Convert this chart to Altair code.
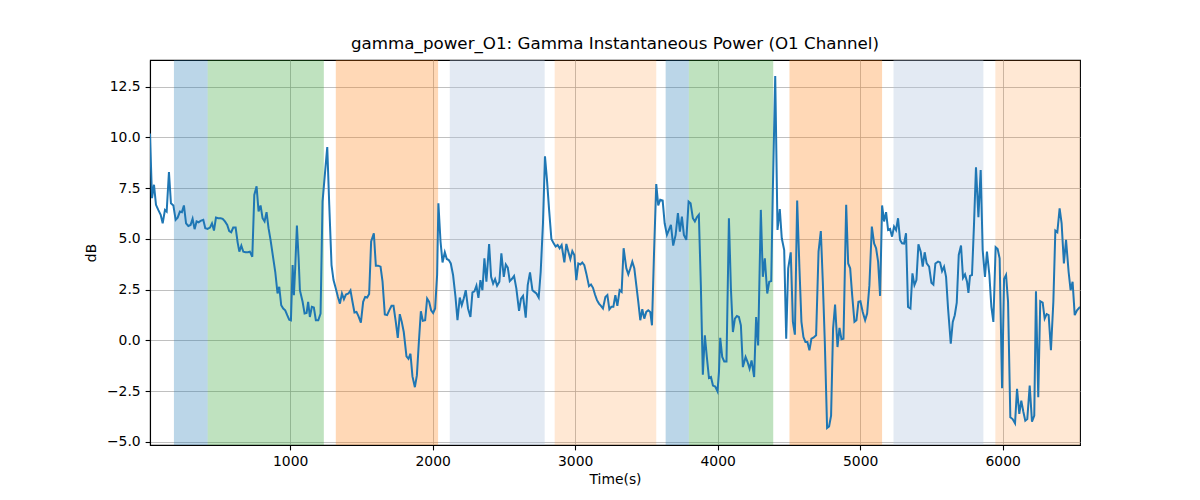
import altair as alt
import pandas as pd

TIME = [16, 30, 44, 58, 74, 91, 105, 121, 133, 149, 163, 180, 196, 210, 226, 240, 254, 269, 285, 301,
        315, 329, 343, 357, 371, 390, 404, 420, 437, 451, 465, 479, 495, 512, 526, 542, 558, 572, 586, 600,
        617, 631, 643, 657, 671, 687, 703, 717, 734, 748, 764, 778, 792, 806, 820, 834, 848, 862, 881, 895,
        911, 923, 937, 951, 965, 979, 993, 1005, 1017, 1026, 1035, 1047, 1059, 1068, 1087, 1101, 1115, 1126, 1138, 1152,
        1166, 1180, 1197, 1213, 1227, 1243, 1260, 1274, 1290, 1304, 1320, 1335, 1349, 1363, 1377, 1391, 1409, 1423, 1437, 1451,
        1465, 1479, 1496, 1512, 1526, 1540, 1554, 1568, 1587, 1601, 1617, 1634, 1648, 1664, 1680, 1695, 1711, 1725, 1741, 1755,
        1769, 1783, 1797, 1816, 1830, 1844, 1858, 1875, 1889, 1903, 1917, 1931, 1947, 1961, 1975, 1989, 2003, 2017, 2031, 2040,
        2055, 2069, 2085, 2099, 2113, 2127, 2143, 2160, 2174, 2190, 2204, 2218, 2232, 2248, 2265, 2279, 2293, 2307, 2321, 2335,
        2349, 2363, 2377, 2396, 2410, 2424, 2438, 2452, 2468, 2482, 2499, 2513, 2527, 2541, 2555, 2571, 2587, 2606, 2620, 2634,
        2653, 2667, 2683, 2700, 2714, 2728, 2744, 2758, 2774, 2788, 2802, 2817, 2833, 2849, 2863, 2877, 2891, 2905, 2924, 2938,
        2952, 2966, 2980, 2994, 3008, 3022, 3036, 3050, 3064, 3078, 3097, 3111, 3125, 3139, 3153, 3167, 3181, 3195, 3212, 3226,
        3240, 3254, 3268, 3282, 3296, 3312, 3326, 3340, 3359, 3373, 3387, 3401, 3415, 3429, 3443, 3457, 3471, 3485, 3499, 3513,
        3527, 3539, 3553, 3569, 3583, 3597, 3614, 3628, 3644, 3658, 3672, 3688, 3705, 3721, 3735, 3749, 3763, 3780, 3796, 3810,
        3826, 3840, 3854, 3868, 3882, 3896, 3910, 3924, 3939, 3953, 3967, 3983, 3999, 4009, 4018, 4032, 4046, 4062, 4079, 4093,
        4107, 4121, 4135, 4149, 4163, 4177, 4196, 4210, 4224, 4238, 4256, 4270, 4284, 4303, 4317, 4331, 4348, 4362, 4376, 4387,
        4404, 4420, 4436, 4450, 4467, 4481, 4495, 4513, 4528, 4542, 4558, 4574, 4588, 4602, 4616, 4630, 4644, 4658, 4672, 4691,
        4708, 4724, 4738, 4752, 4768, 4782, 4796, 4810, 4824, 4841, 4855, 4869, 4883, 4902, 4916, 4930, 4944, 4960, 4974, 4988,
        5002, 5018, 5035, 5049, 5065, 5082, 5098, 5112, 5126, 5140, 5154, 5168, 5182, 5196, 5210, 5224, 5238, 5252, 5266, 5280,
        5294, 5308, 5322, 5336, 5353, 5367, 5381, 5395, 5409, 5425, 5439, 5453, 5467, 5484, 5500, 5514, 5528, 5547, 5561, 5575,
        5589, 5603, 5617, 5636, 5650, 5664, 5678, 5692, 5708, 5722, 5736, 5750, 5760, 5771, 5785, 5799, 5813, 5830, 5846, 5860,
        5876, 5890, 5907, 5921, 5935, 5951, 5965, 5979, 5996, 6010, 6024, 6038, 6054, 6070, 6087, 6101, 6117, 6131, 6145, 6159,
        6173, 6190, 6206, 6222, 6234, 6250, 6264, 6281, 6295, 6309, 6323, 6339, 6356, 6370, 6384, 6400, 6414, 6430, 6445, 6463,
        6477, 6491, 6506, 6522, 6543]

POWER = [10.2, 7.01, 7.67, 6.68, 6.43, 6.19, 5.77, 6.43, 6.35, 8.30, 6.76, 6.65, 5.94, 6.05, 6.35, 6.32, 6.65, 5.77, 5.64, 5.69,
         5.99, 5.48, 5.86, 5.82, 5.89, 5.94, 5.53, 5.49, 5.56, 5.77, 5.41, 6.05, 6.02, 6.02, 5.99, 5.86, 5.69, 5.39, 5.33, 5.56,
         5.56, 4.83, 4.37, 4.67, 4.37, 4.34, 4.34, 4.37, 4.12, 7.17, 7.59, 6.35, 6.65, 6.02, 5.86, 6.32, 5.53, 4.95, 4.04, 3.38,
         2.31, 2.64, 1.73, 1.57, 1.48, 1.24, 1.02, 0.99, 3.71, 2.23, 3.55, 5.66, 4.04, 2.47, 1.90, 1.32, 1.35, 1.90, 1.15, 1.65,
         1.62, 0.99, 0.99, 1.32, 6.84, 8.16, 9.53, 6.68, 3.71, 2.97, 2.56, 2.14, 1.81, 2.31, 2.03, 2.26, 2.31, 2.46, 1.90, 1.37,
         1.40, 1.19, 0.87, 1.90, 2.14, 2.11, 2.28, 4.87, 5.28, 3.68, 3.68, 3.63, 2.89, 1.27, 1.24, 1.48, 1.70, 1.70, 0.91, 0.12,
         1.29, 0.91, 0.41, -0.79, -0.91, -0.66, -1.78, -2.31, -1.73, -0.08, 1.43, 0.96, 0.99, 2.06, 1.90, 1.48, 1.35, 1.57, 3.22, 6.76,
         4.87, 3.84, 4.34, 4.01, 3.96, 3.79, 3.22, 2.14, 0.99, 2.11, 1.73, 2.06, 2.47, 1.57, 1.15, 2.36, 2.42, 2.69, 2.09, 2.97,
         2.47, 4.04, 2.89, 4.75, 3.13, 2.80, 3.02, 2.69, 2.89, 4.29, 3.13, 3.74, 3.58, 2.92, 3.02, 3.17, 2.56, 1.45, 2.06, 2.19,
         1.12, 2.72, 3.35, 2.47, 2.39, 2.31, 2.11, 3.38, 5.77, 9.07, 7.92, 6.43, 5.00, 4.78, 4.62, 4.70, 4.54, 4.70, 3.84, 4.75,
         4.37, 4.01, 4.40, 4.21, 2.97, 3.79, 3.74, 3.84, 3.71, 3.30, 2.67, 2.75, 2.59, 2.26, 1.98, 1.81, 1.70, 1.57, 2.14, 2.23,
         1.53, 1.65, 1.65, 2.23, 1.70, 2.47, 2.39, 4.54, 3.55, 3.25, 3.55, 3.88, 3.55, 2.72, 1.90, 0.99, 1.53, 1.07, 1.40, 1.48,
         1.40, 0.74, 4.21, 7.70, 6.65, 6.93, 6.89, 5.77, 5.20, 5.44, 5.69, 4.67, 5.20, 6.27, 5.36, 6.10, 5.20, 4.95, 6.84, 6.76,
         6.02, 5.86, 6.07, 6.19, 2.72, -1.70, 0.25, -0.82, -1.86, -1.81, -2.23, -2.28, -2.52, -1.57, 0.12, -0.82, -1.04, -1.04, 6.02, 2.56,
         0.41, 1.07, 1.20, 1.15, 0.74, -1.32, -0.82, -1.07, -1.40, -0.99, -1.81, 1.15, -0.25, 6.43, 3.13, 4.04, 2.31, 2.89, 2.92, 7.34,
         13.03, 5.44, 6.47, 5.03, 4.45, 0.08, 3.55, 4.34, 0.91, 0.28, 6.89, 3.55, 0.91, 0.16, -0.08, -0.08, -0.49, 0.08, 0.13, 0.25,
         4.37, 5.39, 2.89, -0.08, -4.32, -4.24, -3.71, 0.58, 1.76, -0.33, 0.61, 0.05, 0.08, 6.68, 3.79, 3.55, 2.23, 0.91, 0.99, 1.90,
         1.93, 1.40, 0.99, 1.32, 2.72, 5.61, 4.78, 4.54, 3.88, 2.19, 6.65, 5.86, 6.32, 5.44, 5.49, 5.11, 5.61, 5.44, 6.02, 4.95,
         4.78, 4.77, 5.28, 1.65, 1.57, 3.30, 2.72, 2.97, 4.73, 4.37, 3.63, 4.34, 3.79, 3.63, 2.84, 2.75, 3.79, 3.88, 3.84, 3.41,
         3.63, 3.13, 1.57, -0.16, 0.91, 1.24, 1.86, 4.21, 4.67, 3.08, 3.25, 2.89, 2.34, 3.18, 3.22, 5.69, 8.53, 6.07, 8.40, 4.45,
         3.13, 4.37, 3.22, 1.65, 0.91, 4.59, 4.50, 4.04, -2.36, 3.02, 3.22, 1.90, -3.79, -3.88, -4.09, -2.39, -3.63, -2.97, -3.51, -3.96,
         -3.88, -2.23, -4.01, -3.71, 2.42, -2.80, 1.93, 1.86, 1.07, 1.29, 1.24, -0.49, 1.90, 5.41, 5.33, 6.51, 5.77, 3.79, 4.95, 3.38,
         2.47, 2.89, 1.24, 1.48, 1.65]

SPAN_START = [184, 421, 1320, 2120, 2856, 3635, 3798, 4504, 5234, 5949]
SPAN_END = [421, 1236, 2038, 2786, 3569, 3798, 4390, 5154, 5865, 6543]
SPAN_COLOR = ["#1f77b4", "#2ca02c", "#ff7f0e", "#b0c4de", "#ff7f0e",
              "#1f77b4", "#2ca02c", "#ff7f0e", "#b0c4de", "#ff7f0e"]
SPAN_ALPHA = [0.3, 0.3, 0.3, 0.35, 0.18, 0.3, 0.3, 0.3, 0.35, 0.18]

Y_TICKS = [-5.0, -2.5, 0.0, 2.5, 5.0, 7.5, 10.0, 12.5]
X_TICKS = [1000, 2000, 3000, 4000, 5000, 6000]

line_df = pd.DataFrame({"t": TIME, "v": POWER})
span_df = pd.DataFrame({"s": SPAN_START, "e": SPAN_END, "c": SPAN_COLOR, "a": SPAN_ALPHA})

FONT = "DejaVu Sans"

xscale = alt.Scale(domain=[16, 6543], nice=False, zero=False)
yscale = alt.Scale(domain=[-5.16, 13.82], nice=False, zero=False)

xaxis = alt.Axis(values=X_TICKS, format="d", title="Time(s)", grid=True)
yaxis = alt.Axis(values=Y_TICKS, format=".1f", title="dB", grid=True)

spans = alt.Chart(span_df).mark_rect(clip=True).encode(
    x=alt.X("s:Q", scale=xscale, axis=xaxis),
    x2="e:Q",
    color=alt.Color("c:N", scale=None, legend=None),
    opacity=alt.Opacity("a:Q", scale=None, legend=None),
)

line = alt.Chart(line_df).mark_line(color="#1f77b4", strokeWidth=2, clip=True).encode(
    x=alt.X("t:Q", scale=xscale, axis=xaxis),
    y=alt.Y("v:Q", scale=yscale, axis=yaxis),
)

chart = alt.layer(spans, line).properties(
    width=930,
    height=385,
    autosize=alt.AutoSizeParams(type="none"),
    padding={"left": 142, "top": 52, "right": 100, "bottom": 47},
    title=alt.TitleParams(
        "gamma_power_O1: Gamma Instantaneous Power (O1 Channel)",
        font=FONT, fontSize=16.7, fontWeight="normal", color="black",
        anchor="middle", offset=7,
    ),
).configure_view(
    stroke="black", strokeWidth=1.1
).configure_axis(
    labelFont=FONT, labelFontSize=13.9, labelColor="black",
    titleFont=FONT, titleFontSize=13.9, titleColor="black", titleFontWeight="normal",
    domainColor="black", domainWidth=1.1,
    tickColor="black", tickSize=4.9, tickWidth=1.1,
    gridColor="#b0b0b0", gridWidth=0.8,
    labelPadding=4.9,
).configure_axisX(
    titlePadding=4,
).configure_axisY(
    titlePadding=8,
)

chart.save("out.html", embed_options={"renderer": "svg", "actions": False})
